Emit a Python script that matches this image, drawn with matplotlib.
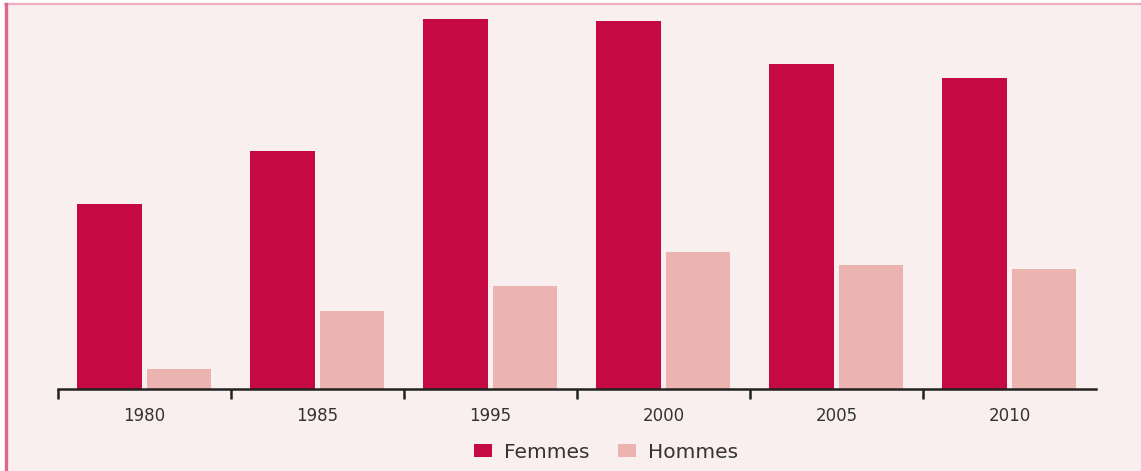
import matplotlib.pyplot as plt
from matplotlib.patches import Patch, Rectangle
from matplotlib.lines import Line2D

annees = ['1980', '1985', '1995', '2000', '2005', '2010']
femmes = [185, 238, 370, 368, 325, 311]
hommes = [20, 78, 103, 137, 124, 120]

rouge = '#c50a43'
rose = '#ebb4b0'
fond = '#f9efee'

fig = plt.figure(figsize=(11.41, 4.71), dpi=100, facecolor='white')

# fond rosé avec liseré en haut et à gauche
fig.patches.append(Rectangle((5 / 1141, 0), 1, 467 / 471, transform=fig.transFigure,
                             facecolor=fond, edgecolor='none', zorder=-2))
fig.lines.append(Line2D([5 / 1141, 1], [467 / 471, 467 / 471], transform=fig.transFigure,
                        color='#f2aabd', lw=1.6, zorder=-1))
fig.lines.append(Line2D([6 / 1141, 6 / 1141], [0, 467 / 471], transform=fig.transFigure,
                        color='#e2668f', lw=2.4, zorder=-1))

ax = fig.add_axes([58 / 1141, 82 / 471, 1038 / 1141, 385 / 471])
ax.set_facecolor('none')
ax.set_zorder(1)

x = list(range(len(annees)))
ax.bar([i - 0.2 for i in x], femmes, width=0.375, color=rouge, zorder=2)
ax.bar([i + 0.2 for i in x], hommes, width=0.37, color=rose, zorder=2)

ax.set_xlim(-0.5, 5.5)
ax.set_ylim(0, 385)

for s in ['top', 'right', 'left']:
    ax.spines[s].set_visible(False)
ax.spines['bottom'].set_color('#222222')
ax.spines['bottom'].set_linewidth(1.8)
ax.spines['bottom'].set_zorder(3)

ax.set_yticks([])
ax.set_xticks(x)
ax.set_xticklabels(annees, fontsize=12, color='#333333')
ax.tick_params(axis='x', which='major', length=0, pad=13)
ax.set_xticks([i - 0.5 for i in x], minor=True)
ax.tick_params(axis='x', which='minor', length=7, width=1.8, color='#222222', direction='out')

handles = [Patch(facecolor=rouge, label='Femmes'), Patch(facecolor=rose, label='Hommes')]
fig.legend(handles=handles, loc='center', bbox_to_anchor=(606 / 1141, 19 / 471), ncol=2,
           frameon=False, fontsize=14.5, handlelength=0.9, handleheight=0.6,
           handletextpad=0.6, columnspacing=1.4, labelcolor='#333333')

fig.savefig('out.png', dpi=100, facecolor=fig.get_facecolor())
